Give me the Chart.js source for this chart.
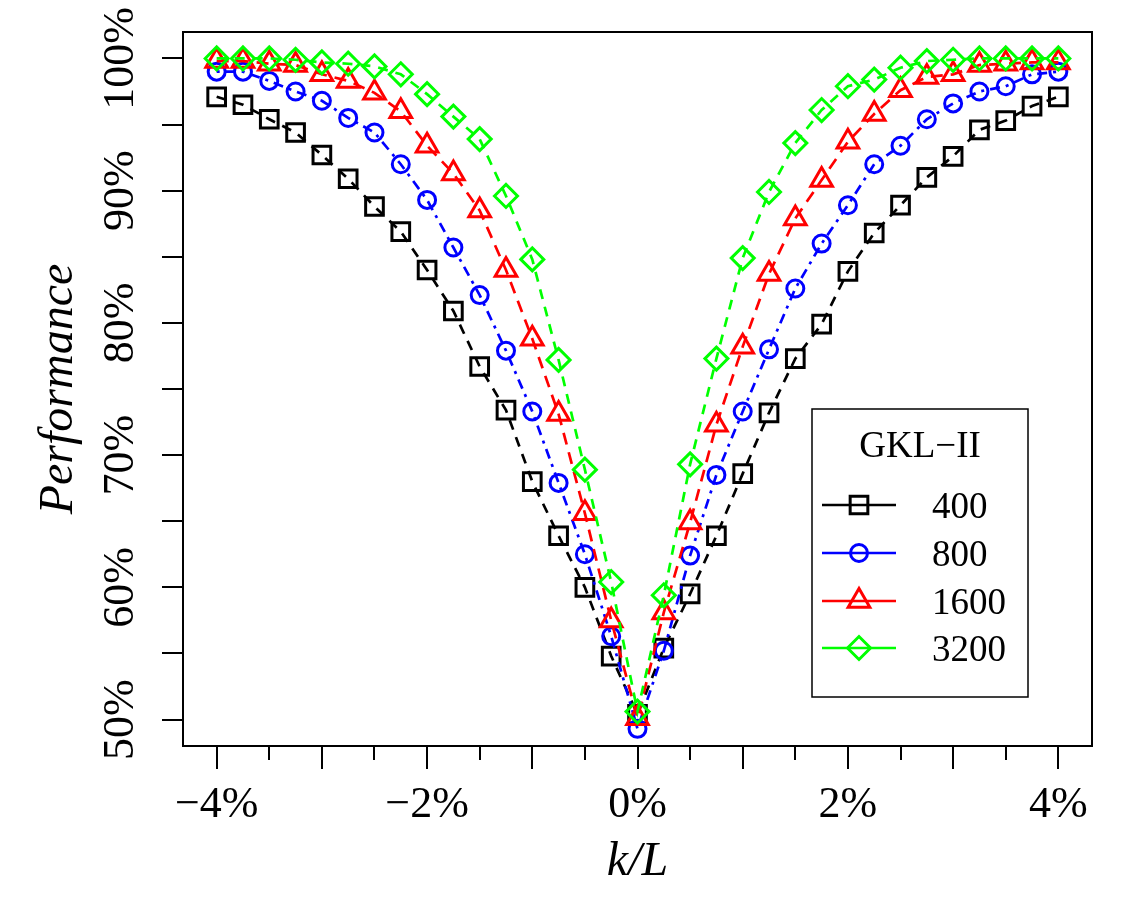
<!DOCTYPE html>
<html>
<head>
<meta charset="utf-8">
<title>GKL-II performance vs k/L</title>
<script src="https://cdn.jsdelivr.net/npm/chart.js@4/dist/chart.umd.min.js"></script>
<style>
  html, body { margin: 0; padding: 0; background: #fff; }
  #wrap { width: 1125px; height: 900px; }
</style>
</head>
<body>
<div id="wrap"><canvas id="chart" width="1125" height="900"></canvas></div>
<script>
// k/L in percent
const kL = [-4, -3.75, -3.5, -3.25, -3, -2.75, -2.5, -2.25, -2, -1.75, -1.5, -1.25, -1, -0.75, -0.5, -0.25,
  0, 0.25, 0.5, 0.75, 1, 1.25, 1.5, 1.75, 2, 2.25, 2.5, 2.75, 3, 3.25, 3.5, 3.75, 4];

// performance (%) per sample size
const perf400 = [97.1, 96.5, 95.4, 94.4, 92.7, 90.9, 88.8, 86.9, 84.0, 80.9, 76.7, 73.4, 68.0, 63.9, 60.0, 54.8,
  50.4, 55.4, 59.5, 63.9, 68.6, 73.2, 77.3, 79.9, 83.9, 86.8, 88.9, 91.0, 92.6, 94.6, 95.3, 96.4, 97.1];
const perf800 = [99.0, 99.0, 98.3, 97.5, 96.8, 95.5, 94.4, 92.0, 89.3, 85.7, 82.1, 77.9, 73.3, 67.9, 62.5, 56.3,
  49.3, 55.2, 62.4, 68.5, 73.3, 78.0, 82.6, 86.0, 88.9, 92.0, 93.4, 95.4, 96.6, 97.5, 97.9, 98.8, 99.0];
const perf1600 = [99.8, 99.8, 99.6, 99.5, 98.8, 98.3, 97.4, 96.0, 93.4, 91.3, 88.5, 84.0, 78.8, 73.1, 65.6, 57.5,
  50.1, 58.1, 64.9, 72.3, 78.2, 83.7, 87.9, 90.8, 93.7, 95.8, 97.6, 98.6, 98.8, 99.5, 99.6, 99.7, 99.7];
const perf3200 = [100, 100, 100, 99.9, 99.7, 99.6, 99.4, 98.8, 97.3, 95.6, 93.9, 89.6, 84.8, 77.2, 68.9, 60.4,
  50.6, 59.4, 69.3, 77.3, 84.9, 89.9, 93.6, 96.1, 97.9, 98.4, 99.3, 99.8, 99.9, 100, 100, 100, 100];

const seriesNames = ["400", "800", "1600", "3200"];
const legendTitle = "GKL\u2212II";

const yTicks = [50, 55, 60, 65, 70, 75, 80, 85, 90, 95, 100];
const yLabels = [50, 60, 70, 80, 90, 100];
const xTicks = [-4, -3.5, -3, -2.5, -2, -1.5, -1, -0.5, 0, 0.5, 1, 1.5, 2, 2.5, 3, 3.5, 4];
const xLabels = [-4, -2, 0, 2, 4];

const pts = (vals) => kL.map((x, i) => ({ x, y: vals[i] }));
const fmtPct = (v) => (v < 0 ? "\u2212" + Math.abs(v) : String(v)) + "%";

const styles = [
  { color: "#000000", dash: [10, 8], point: "rect", radius: 12.5, rotation: 0 },
  { color: "#0000ff", dash: [3, 6, 10, 6], point: "circle", radius: 8.5, rotation: 0 },
  { color: "#ff0000", dash: [12, 8], point: "triangle", radius: 12.5, rotation: 0 },
  { color: "#00ff00", dash: [10, 8], point: "rectRot", radius: 11.5, rotation: 0 },
];
const allSeries = [perf400, perf800, perf1600, perf3200];

const SERIF = '"Liberation Serif", "DejaVu Serif", serif';

function drawMarker(ctx, st, x, y) {
  ctx.save();
  ctx.strokeStyle = st.color;
  ctx.fillStyle = "rgba(0,0,0,0)";
  ctx.lineWidth = 3;
  if (Chart.helpers && Chart.helpers.drawPoint) {
    Chart.helpers.drawPoint(ctx, { pointStyle: st.point, radius: st.radius, rotation: st.rotation, borderWidth: 3 }, x, y);
  }
  ctx.restore();
}

const decor = {
  id: "decor",
  afterDraw(chart) {
    const { ctx, chartArea: a, scales } = chart;
    const x = scales.x, y = scales.y;
    ctx.save();

    // plot box
    ctx.strokeStyle = "#000";
    ctx.lineWidth = 2;
    ctx.setLineDash([]);
    ctx.strokeRect(a.left, a.top, a.right - a.left, a.bottom - a.top);

    // tick marks
    ctx.beginPath();
    yTicks.forEach(v => {
      const py = Math.round(y.getPixelForValue(v));
      ctx.moveTo(a.left, py);
      ctx.lineTo(a.left - 21, py);
    });
    xTicks.forEach(v => {
      const px = Math.round(x.getPixelForValue(v));
      const len = Number.isInteger(v) ? 23 : 14;
      ctx.moveTo(px, a.bottom);
      ctx.lineTo(px, a.bottom + len);
    });
    ctx.stroke();

    ctx.fillStyle = "#000";
    ctx.font = "44px " + SERIF;
    ctx.textAlign = "center";
    ctx.textBaseline = "alphabetic";

    // x tick labels
    xLabels.forEach(v => {
      ctx.fillText(fmtPct(v), x.getPixelForValue(v), 817);
    });

    // y tick labels, rotated
    yLabels.forEach(v => {
      ctx.save();
      ctx.translate(133, y.getPixelForValue(v));
      ctx.rotate(-Math.PI / 2);
      ctx.fillText(fmtPct(v), 0, 0);
      ctx.restore();
    });

    // axis titles
    ctx.font = "italic 48px " + SERIF;
    ctx.fillText("k/L", (a.left + a.right) / 2, 875);
    ctx.save();
    ctx.translate(72, (a.top + a.bottom) / 2);
    ctx.rotate(-Math.PI / 2);
    ctx.fillText("Performance", 0, 0);
    ctx.restore();

    // legend
    const lx = 812, ly = 409, lw = 216, lh = 288;
    ctx.fillStyle = "#fff";
    ctx.fillRect(lx, ly, lw, lh);
    ctx.strokeStyle = "#000";
    ctx.lineWidth = 1.5;
    ctx.strokeRect(lx, ly, lw, lh);
    ctx.fillStyle = "#000";
    ctx.font = "37px " + SERIF;
    ctx.textAlign = "center";
    ctx.fillText(legendTitle, lx + 108, 457);
    ctx.textAlign = "left";
    const rows = [505, 553, 601, 648];
    styles.forEach((st, i) => {
      const ry = rows[i];
      ctx.strokeStyle = st.color;
      ctx.lineWidth = 2.5;
      ctx.beginPath();
      ctx.moveTo(822, ry);
      ctx.lineTo(896, ry);
      ctx.stroke();
      drawMarker(ctx, st, 859, ry);
      ctx.fillStyle = "#000";
      ctx.fillText(seriesNames[i], 932, ry + 13);
    });

    ctx.restore();
  }
};

new Chart(document.getElementById("chart"), {
  type: "line",
  data: {
    datasets: allSeries.map((vals, i) => ({
      label: seriesNames[i],
      data: pts(vals),
      borderColor: styles[i].color,
      borderWidth: 2.7,
      borderDash: styles[i].dash,
      fill: false,
      tension: 0,
      pointStyle: styles[i].point,
      pointRadius: styles[i].radius,
      pointBorderWidth: 3,
      pointBorderColor: styles[i].color,
      pointBackgroundColor: "rgba(0,0,0,0)",
      order: 4 - i,
    })),
  },
  options: {
    responsive: false,
    devicePixelRatio: 1,
    animation: false,
    events: [],
    layout: { padding: { top: 32, right: 33, bottom: 0, left: 0 } },
    plugins: { legend: { display: false }, tooltip: { enabled: false } },
    scales: {
      x: {
        type: "linear",
        min: -4.32,
        max: 4.32,
        grid: { display: false },
        border: { display: false },
        ticks: { display: false },
        afterFit: (s) => { s.height = 154; },
      },
      y: {
        type: "linear",
        min: 48,
        max: 102,
        grid: { display: false },
        border: { display: false },
        ticks: { display: false },
        afterFit: (s) => { s.width = 183; },
      },
    },
  },
  plugins: [decor],
});
</script>
</body>
</html>
